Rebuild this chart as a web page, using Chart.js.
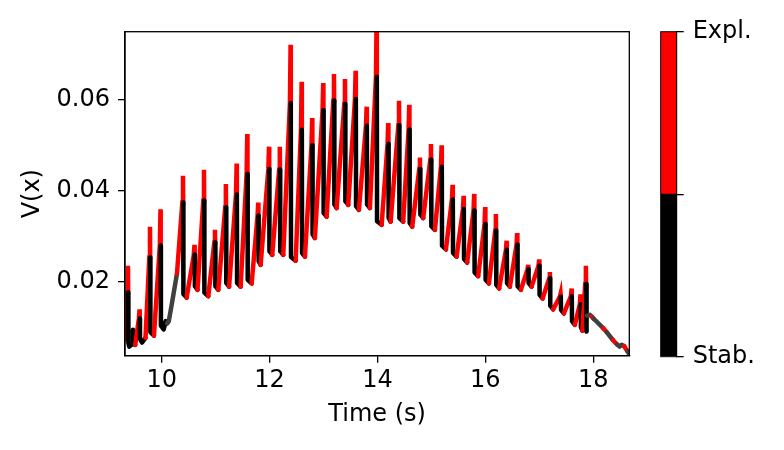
<!DOCTYPE html>
<html><head><meta charset="utf-8">
<script src="https://cdn.jsdelivr.net/npm/chart.js@4.4.0/dist/chart.umd.min.js"></script>
<style>
html,body{margin:0;padding:0;background:#fff;}
#wrap{position:relative;width:784px;height:450px;overflow:hidden;}
#main{position:absolute;left:0;top:0;}
#cbar{position:absolute;left:640px;top:0;}
</style></head><body>
<div id="wrap">
<canvas id="main" width="784" height="450"></canvas>
<canvas id="cbar" width="144" height="450"></canvas>
</div>
<script>
// ---- data ----
const spikeT = [9.375, 9.59, 9.783, 9.978, 10.395, 10.608, 10.784, 10.988, 11.19, 11.39, 11.587, 11.79, 11.99, 12.19, 12.39, 12.595, 12.79, 12.995, 13.194, 13.398, 13.596, 13.80, 13.985, 14.20, 14.40, 14.59, 14.788, 14.992, 15.19, 15.394, 15.598, 15.794, 15.998, 16.196, 16.395, 16.591, 16.795, 16.999, 17.197, 17.396, 17.60, 17.765, 17.865];
const spikePeak = [0.0235, 0.0139, 0.0321, 0.0359, 0.0433, 0.0281, 0.0446, 0.0314, 0.0415, 0.0460, 0.0525, 0.0374, 0.0497, 0.0497, 0.0721, 0.0640, 0.0560, 0.0637, 0.0657, 0.0646, 0.0664, 0.0585, 0.078, 0.0549, 0.0598, 0.0589, 0.0473, 0.0503, 0.0500, 0.0413, 0.0389, 0.0393, 0.0364, 0.0349, 0.0290, 0.0307, 0.0237, 0.0249, 0.0221, 0.0173, 0.0185, 0.0172, 0.0235];
const spikeOnset = [0.0176, 0.0119, 0.0253, 0.0279, 0.0374, 0.0259, 0.0378, 0.0286, 0.0363, 0.0392, 0.0437, 0.0345, 0.0448, 0.0446, 0.0593, 0.0534, 0.0500, 0.0577, 0.0598, 0.0591, 0.0602, 0.0543, 0.0651, 0.0503, 0.0544, 0.0534, 0.0448, 0.0468, 0.0453, 0.0381, 0.0360, 0.0356, 0.0327, 0.0312, 0.0270, 0.0281, 0.0227, 0.0235, 0.0207, 0.0167, 0.0168, 0.0150, 0.0195];
const troughT = [9.40, 9.635, 9.857, 10.037, 10.463, 10.664, 10.864, 11.05, 11.25, 11.464, 11.668, 11.835, 12.05, 12.254, 12.484, 12.656, 12.84, 13.058, 13.244, 13.459, 13.657, 13.861, 14.078, 14.245, 14.478, 14.645, 14.849, 15.066, 15.27, 15.468, 15.664, 15.868, 16.067, 16.257, 16.456, 16.66, 16.858, 17.062, 17.258, 17.457, 17.661, 17.80, 17.875];
const troughV = [0.0057, 0.0066, 0.0081, 0.0095, 0.0165, 0.0182, 0.0168, 0.0182, 0.0189, 0.0189, 0.0196, 0.0237, 0.0259, 0.0259, 0.0246, 0.0255, 0.0296, 0.0343, 0.0362, 0.0369, 0.0358, 0.0362, 0.0325, 0.0332, 0.0332, 0.0321, 0.0340, 0.0314, 0.0271, 0.0255, 0.0242, 0.0212, 0.0196, 0.0185, 0.0189, 0.0182, 0.0189, 0.0163, 0.0139, 0.0130, 0.0105, 0.0092, 0.0090];
// extra stable samples after some troughs (index of the spike they follow)
const extraIdx = [0, 0, 0, 0, 1, 3, 3, 3, 3, 3];
const extraT = [9.45, 9.468, 9.478, 9.51, 9.70, 10.075, 10.10, 10.13, 10.19, 10.284];
const extraV = [0.0062, 0.0094, 0.0066, 0.0061, 0.0076, 0.0113, 0.0108, 0.0112, 0.0152, 0.0218];
const extraState = ['s', 's', 's', 's', 's', 's', 's', 'g', 'g', 'g'];
const startT = 9.355, startV = 0.0072;
// final slow decay
const tailT = [17.885, 17.94, 17.975, 18.005, 18.04, 18.19, 18.25, 18.37, 18.44, 18.49, 18.53, 18.575, 18.635, 18.67];
const tailV = [0.0125, 0.0127, 0.0123, 0.0119, 0.0115, 0.0097, 0.0089, 0.0071, 0.0062, 0.0057, 0.0061, 0.0058, 0.0047, 0.0040];
const tailState = ['s', 'g', 'g', 'e', 'g', 'g', 'e', 'g', 'e', 'g', 'g', 'g', 'e', 'g'];
const xTicks = [10, 12, 14, 16, 18];
const yTicks = [0.02, 0.04, 0.06];
const cbarTicks = [0, 0.5, 1];
const cbarLabels = ['Stab.', '', 'Expl.'];

// ---- build trajectory ----
const pts = [], st = [];
function add(x, y, s) { pts.push({x: x, y: y}); st.push(s); }
add(startT, startV, 's');
for (let i = 0; i < spikeT.length; i++) {
  const T = spikeT[i];
  add(T - 0.012, spikeOnset[i], 'e');
  add(T, spikePeak[i], 'e');
  add(T + 0.004, spikeOnset[i], 'e');
  add(T + 0.008, troughV[i] + 0.0008, 's');
  add(troughT[i], troughV[i], 's');
  for (let k = 0; k < extraIdx.length; k++) {
    if (extraIdx[k] === i) add(extraT[k], extraV[k], extraState[k]);
  }
}
for (let k = 0; k < tailT.length; k++) add(tailT[k], tailV[k], tailState[k]);

const COLORS = {e: '#ff0000', s: '#000000', g: '#404040'};
const FONT = {family: 'DejaVu Sans', size: 24};

const frame = {
  id: 'frame',
  afterDatasetsDraw(chart, args, opts) {
    const a = chart.chartArea, c = chart.ctx;
    c.save();
    c.strokeStyle = '#000';
    c.lineWidth = opts.w || 1.3;
    c.strokeRect(a.left, a.top, a.right - a.left, a.bottom - a.top);
    c.restore();
  }
};

new Chart(document.getElementById('main'), {
  type: 'line',
  data: {
    datasets: [{
      data: pts,
      borderWidth: 4.5,
      pointRadius: 0,
      tension: 0,
      fill: false,
      clip: 0,
      borderCapStyle: 'round',
      borderColor: '#000',
      segment: {
        borderColor: c => COLORS[st[c.p1DataIndex]],
        borderJoinStyle: c => st[c.p1DataIndex] === 'e' ? 'miter' : 'round'
      }
    }]
  },
  options: {
    responsive: false,
    animation: false,
    devicePixelRatio: 1,
    layout: {padding: {left: 0, right: 154.7, top: 31.7, bottom: 0}},
    plugins: {legend: {display: false}, tooltip: {enabled: false}, frame: {w: 1.3}},
    scales: {
      x: {
        type: 'linear', min: 9.32, max: 18.67,
        afterBuildTicks: s => { s.ticks = xTicks.map(v => ({value: v})); },
        afterFit: s => { s.height = 94.3; },
        ticks: {font: FONT, color: '#000', padding: 4, maxRotation: 0, callback: v => String(v)},
        grid: {drawOnChartArea: false, drawTicks: true, tickLength: 7, color: '#000', lineWidth: 1.3},
        border: {display: true, color: '#000', width: 1.3},
        title: {display: true, text: 'Time (s)', font: FONT, color: '#000', padding: {top: 0, bottom: 21}}
      },
      y: {
        type: 'linear', min: 0.0037, max: 0.075,
        afterBuildTicks: s => { s.ticks = yTicks.map(v => ({value: v})); },
        afterFit: s => { s.width = 125; },
        ticks: {font: FONT, color: '#000', padding: 8, callback: v => v.toFixed(2)},
        grid: {drawOnChartArea: false, drawTicks: true, tickLength: 7, color: '#000', lineWidth: 1.3},
        border: {display: true, color: '#000', width: 1.3},
        title: {display: true, text: 'V(x)', font: FONT, color: '#000', padding: {top: 18, bottom: 0}}
      }
    }
  },
  plugins: [frame]
});

new Chart(document.getElementById('cbar'), {
  type: 'bar',
  data: {
    labels: ['c'],
    datasets: [
      {data: [cbarTicks[1] - cbarTicks[0]], backgroundColor: COLORS.s, borderWidth: 0},
      {data: [cbarTicks[2] - cbarTicks[1]], backgroundColor: COLORS.e, borderWidth: 0}
    ]
  },
  options: {
    responsive: false,
    animation: false,
    devicePixelRatio: 1,
    layout: {padding: {left: 20.7, right: 0, top: 31.7, bottom: 93.3}},
    plugins: {legend: {display: false}, tooltip: {enabled: false}, frame: {w: 1}},
    datasets: {bar: {barPercentage: 1, categoryPercentage: 1}},
    scales: {
      x: {display: false, stacked: true},
      y: {
        position: 'right', stacked: true, min: 0, max: 1,
        afterBuildTicks: s => { s.ticks = cbarTicks.map(v => ({value: v})); },
        afterFit: s => { s.width = 107.3; },
        ticks: {font: FONT, color: '#000', padding: 9, callback: (v, i) => cbarLabels[i]},
        grid: {drawOnChartArea: false, drawTicks: true, tickLength: 7, color: '#000', lineWidth: 1.3},
        border: {display: true, color: '#000', width: 1}
      }
    }
  },
  plugins: [frame]
});
</script>
</body></html>
